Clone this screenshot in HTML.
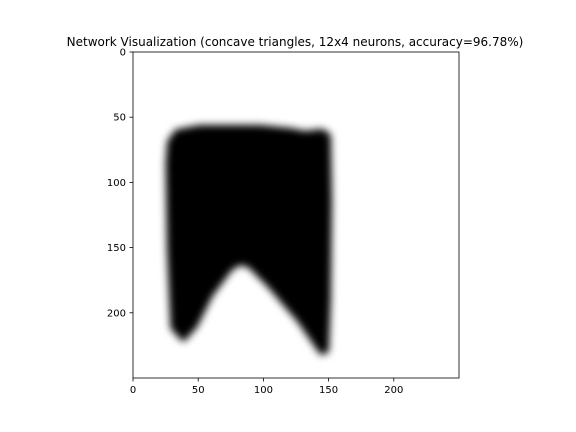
<!DOCTYPE html>
<html><head><meta charset="utf-8"><style>
body{margin:0;background:#fff;}
svg{display:block;font-family:"DejaVu Sans","Liberation Sans",sans-serif;}
</style></head><body>
<svg id="c" width="576" height="432" viewBox="0 0 576 432">
<defs><filter id="blur" x="-20%" y="-20%" width="140%" height="140%"><feGaussianBlur stdDeviation="4"/></filter>
<clipPath id="clip"><rect x="133" y="52" width="326" height="326"/></clipPath></defs>
<rect x="0" y="0" width="576" height="432" fill="#fff"/>
<text x="295" y="46" text-anchor="middle" font-size="12">Network Visualization (concave triangles, 12x4 neurons, accuracy=96.78%)</text>
<g id="img" clip-path="url(#clip)"></g>
<rect x="133" y="52" width="326" height="326" fill="none" stroke="#000" stroke-width="0.8"/>
<g id="ax"></g>
</svg>
<script>
const outlineX=[34,51.4,97.4,120.4,131.9,144.9,149.5,150.3,149.5,148,144.9,128,105,89.7,82,74.4,59,47.5,38.6,31,28.4,27.3,28.5];
const outlineY=[61.5,58.3,58.3,60.6,62.9,61.3,64.4,113.5,190.2,228.5,230,205.5,178.7,163.3,161,165.6,186.3,209.4,219.5,211,151.8,85,69];
const xTicks=[0,50,100,150,200];
const yTicks=[0,50,100,150,200];
const x0=133,y0=52,s=326/250;
const sx=v=>x0+v*s, sy=v=>y0+v*s;
const NS="http://www.w3.org/2000/svg";
const img=document.getElementById('img'), ax=document.getElementById('ax');
let d=outlineX.map((v,i)=>(i?'L':'M')+sx(v).toFixed(1)+','+sy(outlineY[i]).toFixed(1)).join(' ')+'Z';
const p=document.createElementNS(NS,'path');
p.setAttribute('d',d);p.setAttribute('fill','#000');p.setAttribute('stroke','#000');
p.setAttribute('stroke-width','6');p.setAttribute('stroke-linejoin','round');p.setAttribute('filter','url(#blur)');


img.appendChild(p);
function el(tag,attrs,txt){const e=document.createElementNS(NS,tag);for(const k in attrs)e.setAttribute(k,attrs[k]);if(txt!==undefined)e.textContent=txt;ax.appendChild(e);return e;}
xTicks.forEach(t=>{
 const l=el('line',{x1:sx(t),x2:sx(t),y1:378,y2:381.5,stroke:'#000','stroke-width':0.8});
 
 
 const tx=el('text',{x:sx(t),y:393,'text-anchor':'middle','font-size':10},t);
 
 
});
yTicks.forEach(t=>{
 const l=el('line',{x1:129.5,x2:133,y1:sy(t),y2:sy(t),stroke:'#000','stroke-width':0.8});
 
 
 const tx=el('text',{x:126,y:sy(t)+3.5,'text-anchor':'end','font-size':10},t);
 
 
});
</script>
</body></html>
